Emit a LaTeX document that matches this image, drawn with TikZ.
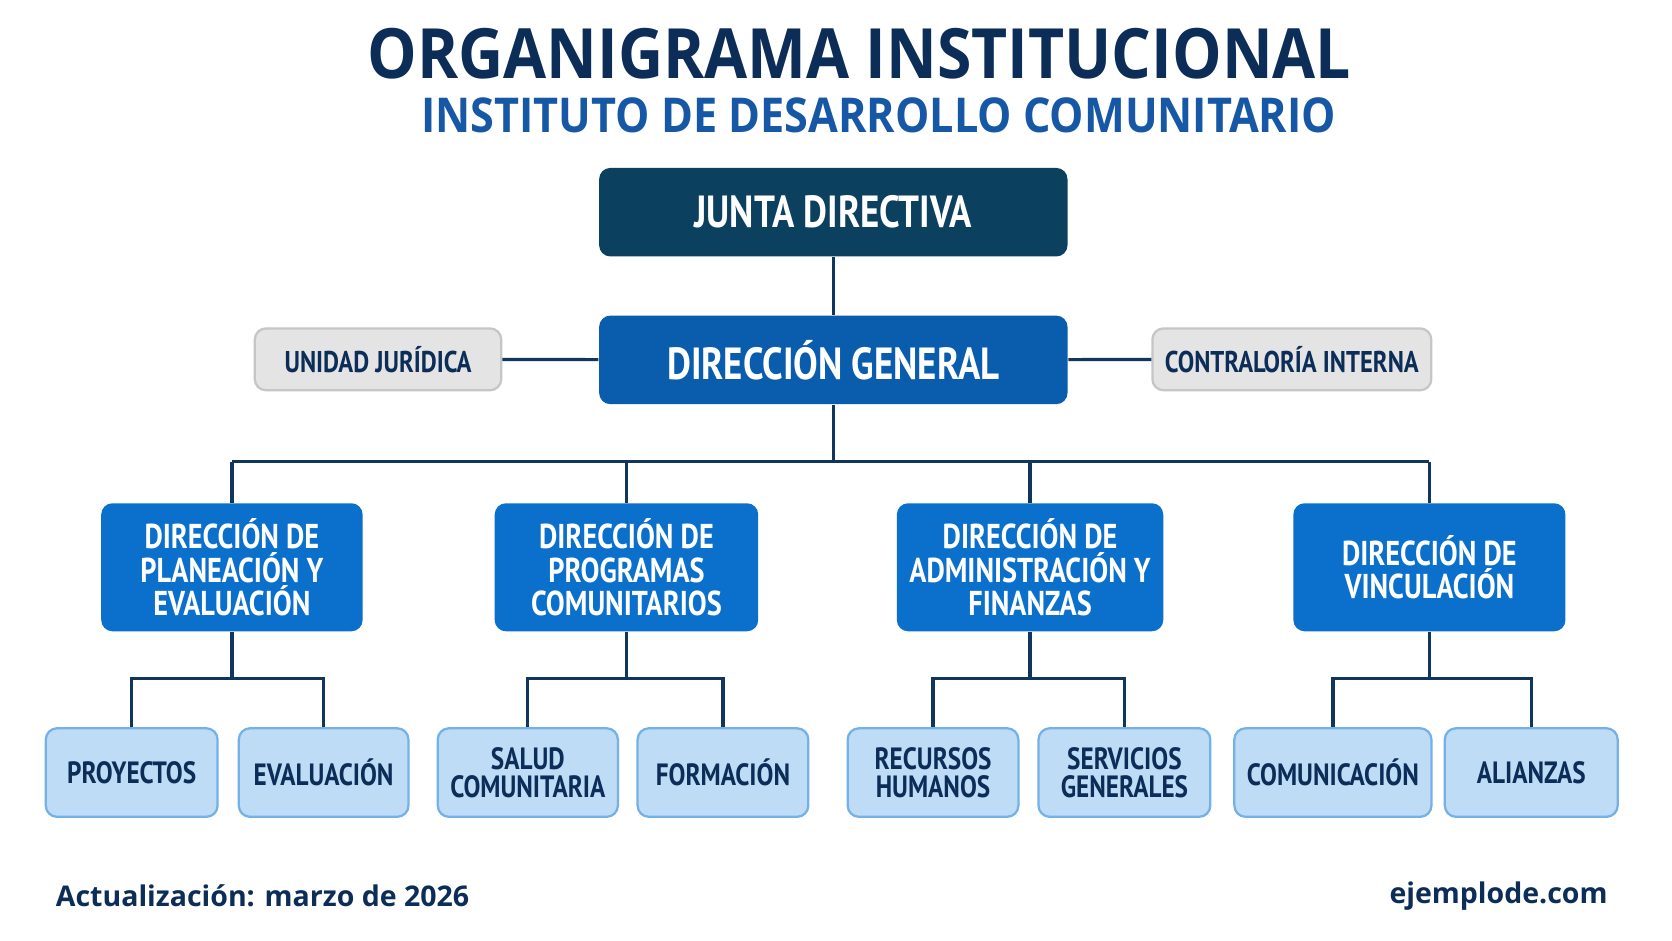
\documentclass[tikz,border=0pt]{standalone}
\usepackage{fontspec}
\setmainfont{Open Sans}
\newfontfamily\boxfont[FakeStretch=0.82]{PT Sans}
\newfontfamily\titlefont[FakeStretch=0.9]{Open Sans}
\usetikzlibrary{positioning}
\definecolor{navy}{HTML}{0C2D57}
\definecolor{subblue}{HTML}{1658A6}
\definecolor{juntablue}{HTML}{0B405F}
\definecolor{generalblue}{HTML}{0A5CAD}
\definecolor{dirblue}{HTML}{0B70CC}
\definecolor{leafblue}{HTML}{BEDCF5}
\definecolor{leafedge}{HTML}{74B1E6}
\definecolor{greybox}{HTML}{E4E4E4}
\definecolor{greyedge}{HTML}{C6C6C6}
\definecolor{linecol}{HTML}{10365F}

\begin{document}
\begin{tikzpicture}[x=0.01cm,y=-0.01cm]
    \tikzstyle{top}=[rounded corners=3pt, text=white, font=\boxfont\bfseries\fontsize{12}{14}\selectfont, minimum width=4.39cm, minimum height=0.83cm]
    \tikzstyle{side}=[rounded corners=3pt, fill=greybox, draw=greyedge, line width=0.6pt, text=navy, font=\boxfont\bfseries\fontsize{8}{10}\selectfont, minimum height=0.58cm]
    \tikzstyle{dir}=[rounded corners=3pt, fill=dirblue, text=white, align=center, font=\boxfont\bfseries\fontsize{9.2}{8.9}\selectfont, minimum height=1.2cm]
    \tikzstyle{leaf}=[rounded corners=3pt, fill=leafblue, draw=leafedge, line width=0.6pt, text=navy, align=center, font=\boxfont\bfseries\fontsize{8.2}{7.6}\selectfont, minimum height=0.83cm]
    \tikzstyle{link}=[linecol, line width=0.85pt]

    \useasboundingbox[fill=white] (0,0) rectangle (1568,882);

    % Titles
    \node[navy, font=\titlefont\bfseries\fontsize{18.5}{20}\selectfont] (title) at (806,50) {ORGANIGRAMA INSTITUCIONAL};
    \node[subblue, font=\titlefont\bfseries\fontsize{12.8}{14}\selectfont] (subtitle) at (824,108) {INSTITUTO DE DESARROLLO COMUNITARIO};

    % Top levels
    \node[top, fill=juntablue] (junta) at (781.5,199) {JUNTA DIRECTIVA};
    \node[top, fill=generalblue] (general) at (781.5,337.5) {DIRECCIÓN GENERAL};
    \node[side, minimum width=2.31cm] (juridica) at (354.5,337) {UNIDAD JURÍDICA};
    \node[side, minimum width=2.49cm] (contraloria) at (1211.5,337) {CONTRALORÍA INTERNA};

    % Directorates
    \node[dir, minimum width=2.45cm] (planeacion) at (217.5,532) {DIRECCIÓN DE\\PLANEACIÓN Y\\EVALUACIÓN};
    \node[dir, minimum width=2.47cm] (programas) at (587.5,532) {DIRECCIÓN DE\\PROGRAMAS\\COMUNITARIOS};
    \node[dir, minimum width=2.48cm] (administracion) at (966,532) {DIRECCIÓN DE\\ADMINISTRACIÓN Y\\FINANZAS};
    \node[dir, minimum width=2.55cm] (vinculacion) at (1340.5,532) {DIRECCIÓN DE\\VINCULACIÓN};

    % Units
    \node[leaf, minimum width=1.61cm] (proyectos) at (123.5,724.5) {PROYECTOS};
    \node[leaf, minimum width=1.59cm] (evaluacion) at (303.5,724.5) {EVALUACIÓN};
    \node[leaf, minimum width=1.64cm] (salud) at (495,724.5) {SALUD\\COMUNITARIA};
    \node[leaf, minimum width=1.60cm] (formacion) at (678,724.5) {FORMACIÓN};
    \node[leaf, minimum width=1.60cm] (recursos) at (875,724.5) {RECURSOS\\HUMANOS};
    \node[leaf, minimum width=1.61cm] (servicios) at (1054.5,724.5) {SERVICIOS\\GENERALES};
    \node[leaf, minimum width=1.72cm] (comunicacion) at (1250,724.5) {COMUNICACIÓN};
    \node[leaf, minimum width=1.62cm] (alianzas) at (1436,724.5) {ALIANZAS};

    % Connectors
    \draw[link] (junta) -- (general);
    \draw[link] (juridica) -- (general);
    \draw[link] (contraloria) -- (general);
    \coordinate (bus) at (784,433);
    \draw[link] (general.south) -- (general.south |- bus);
    \foreach \d in {planeacion,programas,administracion,vinculacion}
        \draw[link] (\d.north) -- (\d.north |- bus);
    \draw[link] (planeacion.north |- bus) -- (vinculacion.north |- bus);
    \foreach \d/\a/\b in {planeacion/proyectos/evaluacion, programas/salud/formacion, administracion/recursos/servicios, vinculacion/comunicacion/alianzas}{
        \coordinate (sub\d) at (0,636);
        \draw[link] (\d.south) -- (\d.south |- sub\d);
        \draw[link] (\a.north) |- (\b.north |- sub\d) -- (\b.north);
    }

    % Footer
    \node[navy, anchor=west, font=\bfseries\fontsize{7.6}{9}\selectfont] (fecha) at (40,840) {Actualización: marzo de 2026};
    \node[navy, anchor=east, font=\bfseries\fontsize{7.6}{9}\selectfont] (sitio) at (1520,840) {ejemplode.com};
\end{tikzpicture}
\end{document}
